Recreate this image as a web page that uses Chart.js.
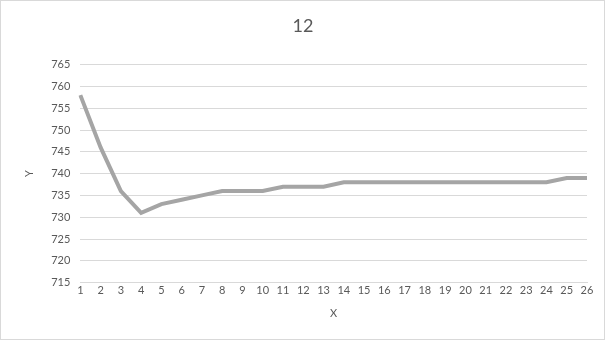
<!DOCTYPE html>
<html>
<head>
<meta charset="utf-8">
<script src="https://cdn.jsdelivr.net/npm/chart.js@4"></script>
<style>
   html, body { margin: 0; padding: 0; background: #fff; }
   #wrap { width: 603px; height: 338px; border: 1px solid #d9d9d9; }
</style>
</head>
<body>
<div id="wrap"><canvas id="chart" width="603" height="338"></canvas></div>
<script>
// values
const xLabels = ["1","2","3","4","5","6","7","8","9","10","11","12","13","14","15","16","17","18","19","20","21","22","23","24","25","26"];
const yValues = [758, 746, 736, 731, 733, 734, 735, 736, 736, 736, 737, 737, 737, 738, 738, 738, 738, 738, 738, 738, 738, 738, 738, 738, 739, 739];
const chartTitle = "12";
const xTitle = "X";
const yTitle = "Y";

const textColor = "#595959";
const fontFamily = "Lato, 'Liberation Sans', sans-serif";

const ctx = document.getElementById("chart").getContext("2d");
new Chart(ctx, {
   type: "line",
   data: {
      labels: xLabels,
      datasets: [
         {
            label: "Y",
            data: yValues,
            borderColor: "#a5a5a5",
            borderWidth: 4,
            pointRadius: 0,
            tension: 0,
            fill: false,
         },
      ],
   },
   options: {
      responsive: false,
      animation: false,
      layout: {
         padding: { left: 18, right: 17, top: 14, bottom: 19 },
      },
      scales: {
         x: {
            offset: false,
            grid: { display: false, drawTicks: false },
            border: { color: "#d9d9d9" },
            ticks: {
               color: textColor,
               font: { family: fontFamily, size: 11 },
               maxRotation: 0,
               autoSkip: false,
               padding: 1,
            },
            title: {
               display: true,
               text: xTitle,
               color: textColor,
               font: { family: fontFamily, size: 11 },
               padding: { top: 9, bottom: 0 },
            },
         },
         y: {
            min: 715,
            max: 765,
            ticks: {
               stepSize: 5,
               color: textColor,
               font: { family: fontFamily, size: 11 },
               padding: 10,
            },
            grid: { color: "#d9d9d9", drawTicks: false },
            border: { display: false },
            title: {
               display: true,
               text: yTitle,
               color: textColor,
               font: { family: fontFamily, size: 11 },
               padding: { bottom: 5 },
            },
         },
      },
      plugins: {
         legend: { display: false },
         tooltip: { enabled: false },
         title: {
            display: true,
            text: chartTitle,
            color: textColor,
            font: { family: fontFamily, size: 18, weight: "normal" },
            padding: { top: 0, bottom: 28 },
         },
      },
   },
});
</script>
</body>
</html>
